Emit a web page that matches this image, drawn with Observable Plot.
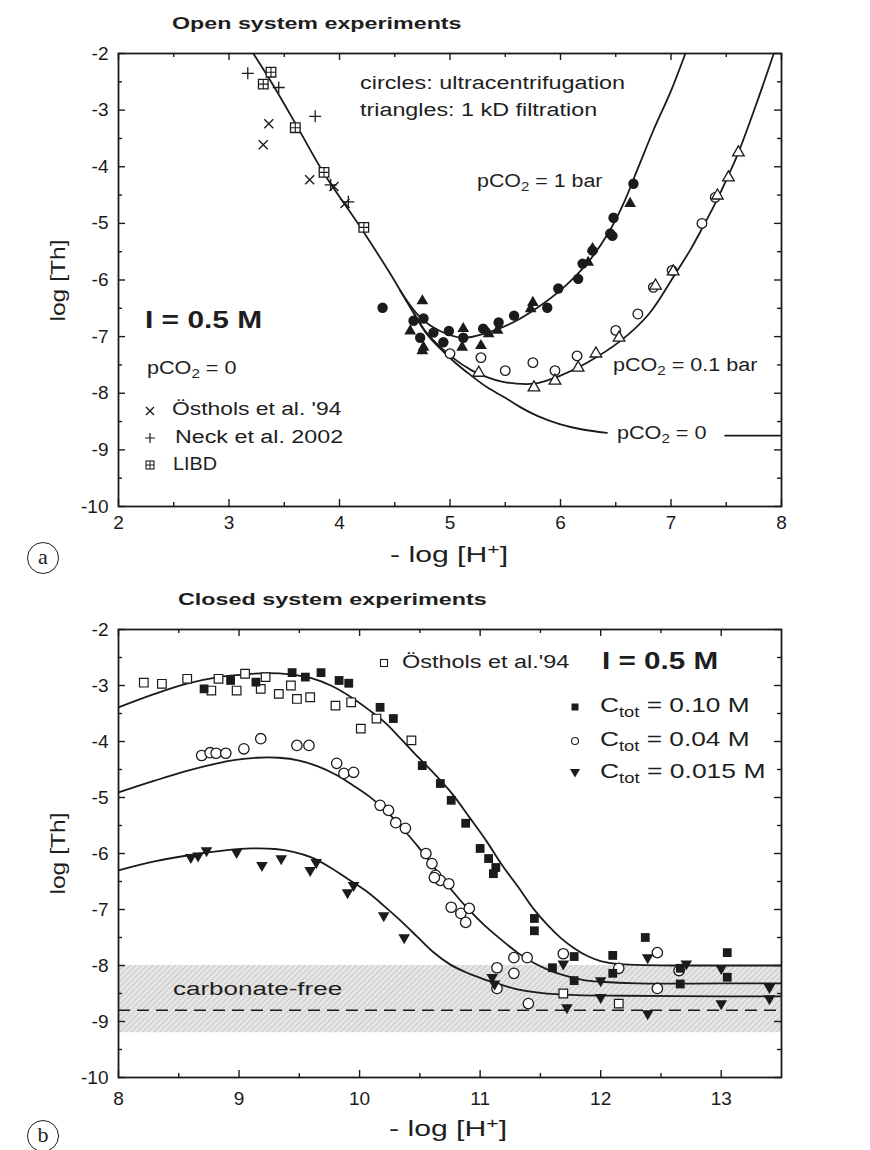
<!DOCTYPE html>
<html><head><meta charset="utf-8">
<script src="https://cdn.jsdelivr.net/npm/d3@7"></script>
<script src="https://cdn.jsdelivr.net/npm/@observablehq/plot@0.6"></script>
<style>
html,body{margin:0;padding:0;background:#fff;}
#wrap{position:relative;width:870px;height:1150px;overflow:hidden;font-family:"Liberation Sans",Arial,sans-serif;color:#1e1e1e;}
#wrap svg.plot{position:absolute;left:0;}
.t{position:absolute;white-space:nowrap;}
.t sub{font-size:0.7em;position:relative;top:0.32em;vertical-align:baseline;line-height:0;}
.t sup{font-size:0.7em;position:relative;top:-0.5em;vertical-align:baseline;line-height:0;}
.sym{position:absolute;width:24px;height:24px;}
.lab{position:absolute;width:30px;height:30px;border:1.5px solid #1e1e1e;border-radius:50%;font-family:"Liberation Serif","Times New Roman",serif;font-size:22px;line-height:28px;text-align:center;}
</style></head>
<body><div id="wrap"></div>
<script>
// ---------------- Panel (a): open system ----------------
const aTicksX = [2, 3, 4, 5, 6, 7, 8];
const aTicksY = [-2, -3, -4, -5, -6, -7, -8, -9, -10];
// model curves
const aC0X = [3.22, 3.40, 3.62, 3.86, 4.19, 4.45, 4.67, 4.80, 5.03, 5.20, 5.34, 5.50, 5.64, 5.79, 6.00, 6.20, 6.42];
const aC0Y = [-2.0, -2.56, -3.30, -4.12, -5.07, -5.86, -6.58, -6.98, -7.43, -7.70, -7.90, -8.08, -8.25, -8.40, -8.55, -8.64, -8.70];
const aC0TailX = [7.49, 8.0];
const aC0TailY = [-8.75, -8.75];
const aC01X = [4.67, 4.80, 5.03, 5.20, 5.34, 5.46, 5.60, 5.76, 5.90, 6.00, 6.24, 6.54, 6.80, 7.02, 7.18, 7.30, 7.42, 7.52, 7.61, 7.78, 7.93];
const aC01Y = [-6.58, -6.96, -7.38, -7.60, -7.72, -7.79, -7.83, -7.83, -7.76, -7.69, -7.46, -7.08, -6.60, -5.95, -5.45, -5.02, -4.57, -4.15, -3.75, -2.85, -2.0];
const aC1X = [4.55, 4.73, 4.91, 5.12, 5.34, 5.57, 5.79, 6.03, 6.24, 6.43, 6.57, 6.70, 6.84, 7.00, 7.13];
const aC1Y = [-6.19, -6.66, -6.90, -7.02, -6.93, -6.75, -6.49, -6.13, -5.71, -5.18, -4.65, -4.03, -3.36, -2.66, -2.0];
// pCO2 = 0 data
const aOsthX = [3.36, 3.31, 3.73, 3.95, 4.05];
const aOsthY = [-3.24, -3.61, -4.23, -4.35, -4.65];
const aNeckX = [3.17, 3.45, 3.78, 3.92, 4.08];
const aNeckY = [-2.35, -2.60, -3.11, -4.32, -4.62];
const aLibdX = [3.38, 3.31, 3.60, 3.86, 4.22];
const aLibdY = [-2.33, -2.54, -3.31, -4.10, -5.07];
// pCO2 = 1 bar: ultracentrifugation (filled circles), filtration (filled triangles)
const aUc1X = [4.39, 4.67, 4.73, 4.76, 4.85, 4.94, 4.99, 5.12, 5.30, 5.44, 5.58, 5.88, 5.98, 6.16, 6.20, 6.29, 6.45, 6.47, 6.48, 6.66];
const aUc1Y = [-6.49, -6.72, -7.02, -6.68, -6.93, -7.10, -6.90, -7.02, -6.86, -6.75, -6.63, -6.49, -6.15, -5.98, -5.71, -5.48, -5.18, -5.22, -4.90, -4.30];
const aFi1X = [4.64, 4.75, 4.75, 4.76, 5.11, 5.12, 5.28, 5.35, 5.43, 5.73, 5.75, 6.25, 6.29, 6.63];
const aFi1Y = [-6.90, -6.37, -7.25, -7.19, -7.19, -6.86, -7.16, -6.95, -6.89, -6.51, -6.40, -5.69, -5.45, -4.65];
// pCO2 = 0.1 bar: ultracentrifugation (open circles), filtration (open triangles)
const aUc01X = [5.00, 5.28, 5.50, 5.75, 5.95, 6.15, 6.50, 6.70, 6.84, 7.01, 7.28, 7.40];
const aUc01Y = [-7.30, -7.37, -7.60, -7.46, -7.60, -7.34, -6.89, -6.60, -6.13, -5.83, -5.00, -4.54];
const aFi01X = [5.26, 5.76, 5.95, 6.16, 6.32, 6.53, 6.86, 7.02, 7.42, 7.52, 7.61];
const aFi01Y = [-7.64, -7.90, -7.78, -7.55, -7.30, -7.02, -6.10, -5.85, -4.51, -4.19, -3.75];

// ---------------- Panel (b): closed system ----------------
const bTicksX = [8, 9, 10, 11, 12, 13];
const bTicksY = [-2, -3, -4, -5, -6, -7, -8, -9, -10];
const bC10X = [8, 8.3, 8.56, 8.83, 9.05, 9.24, 9.42, 9.6, 9.77, 9.93, 10.08, 10.22, 10.35, 10.49, 10.63, 10.77, 10.91, 11.05, 11.18, 11.32, 11.44, 11.56, 11.67, 11.78, 11.89, 12.0, 12.14, 12.3, 12.6, 13.0, 13.5];
const bC10Y = [-3.39, -3.15, -2.97, -2.85, -2.80, -2.78, -2.80, -2.87, -3.01, -3.21, -3.44, -3.68, -3.97, -4.29, -4.6, -4.94, -5.35, -5.77, -6.2, -6.61, -6.98, -7.28, -7.51, -7.69, -7.83, -7.92, -7.97, -7.99, -8.0, -8.0, -8.0];
const bC04X = [8, 8.3, 8.56, 8.8, 8.97, 9.15, 9.33, 9.5, 9.66, 9.8, 9.93, 10.08, 10.22, 10.35, 10.49, 10.63, 10.77, 10.9, 11.03, 11.17, 11.31, 11.45, 11.58, 11.72, 11.86, 12.0, 12.3, 13.0, 13.5];
const bC04Y = [-4.91, -4.7, -4.53, -4.40, -4.33, -4.29, -4.29, -4.34, -4.45, -4.59, -4.76, -4.98, -5.24, -5.54, -5.89, -6.28, -6.67, -6.99, -7.27, -7.53, -7.77, -7.96, -8.09, -8.19, -8.26, -8.29, -8.32, -8.32, -8.32];
const bC015X = [8, 8.3, 8.68, 8.9, 9.1, 9.3, 9.45, 9.6, 9.75, 9.9, 10.06, 10.2, 10.34, 10.48, 10.61, 10.75, 10.89, 11.0, 11.15, 11.3, 11.5, 11.8, 12.2, 13.0, 13.5];
const bC015Y = [-6.3, -6.14, -6.0, -5.94, -5.91, -5.92, -5.97, -6.07, -6.24, -6.45, -6.68, -6.93, -7.2, -7.49, -7.76, -7.98, -8.13, -8.22, -8.33, -8.42, -8.49, -8.53, -8.54, -8.55, -8.55];
const bBandY = [-9.2, -8.0];          // carbonate-free range
const bFreeY = [-8.8];                // carbonate-free level (dashed)
const bOsX = [8.21, 8.36, 8.57, 8.77, 8.83, 8.98, 9.05, 9.18, 9.22, 9.33, 9.43, 9.48, 9.59, 9.80, 9.93, 10.01, 10.14, 10.43, 11.69, 12.15];
const bOsY = [-2.95, -2.97, -2.88, -3.09, -2.88, -3.09, -2.79, -3.06, -2.85, -3.15, -3.00, -3.24, -3.21, -3.36, -3.30, -3.77, -3.59, -3.98, -8.50, -8.68];
const bSqX = [8.71, 8.93, 9.14, 9.44, 9.55, 9.68, 9.83, 9.91, 10.17, 10.28, 10.52, 10.67, 10.76, 10.88, 11.0, 11.07, 11.13, 11.11, 11.45, 11.45, 11.6, 11.78, 11.78, 12.1, 12.1, 12.37, 12.66, 12.66, 13.05, 13.05];
const bSqY = [-3.06, -2.91, -2.94, -2.77, -2.85, -2.77, -2.91, -2.96, -3.39, -3.59, -4.43, -4.75, -5.05, -5.46, -5.91, -6.09, -6.25, -6.36, -7.16, -7.38, -8.04, -8.27, -7.84, -7.82, -8.14, -7.5, -8.05, -8.33, -7.77, -8.21];
const bCiX = [8.69, 8.76, 8.81, 8.89, 9.04, 9.18, 9.48, 9.58, 9.81, 9.87, 9.95, 10.17, 10.24, 10.30, 10.38, 10.55, 10.60, 10.63, 10.67, 10.74, 10.62, 10.76, 10.84, 10.88, 10.91, 11.14, 11.28, 11.39, 11.28, 11.14, 11.40, 11.69, 12.15, 12.47, 12.47, 12.65];
const bCiY = [-4.25, -4.20, -4.21, -4.21, -4.13, -3.95, -4.07, -4.07, -4.39, -4.57, -4.55, -5.14, -5.23, -5.45, -5.55, -6.00, -6.18, -6.39, -6.48, -6.54, -6.43, -6.96, -7.07, -7.23, -6.98, -8.04, -7.86, -7.86, -8.14, -8.41, -8.68, -7.79, -8.05, -7.77, -8.41, -8.09];
const bTrX = [8.6, 8.66, 8.73, 8.98, 9.19, 9.35, 9.59, 9.64, 9.90, 9.95, 10.20, 10.37, 11.10, 11.12, 11.69, 11.72, 12.0, 12.0, 12.39, 12.39, 12.71, 13.0, 13.0, 13.40, 13.40];
const bTrY = [-6.07, -6.04, -5.95, -5.98, -6.21, -6.09, -6.30, -6.16, -6.70, -6.57, -7.11, -7.50, -8.21, -8.33, -7.97, -8.75, -8.27, -8.57, -7.86, -8.86, -7.97, -8.05, -8.68, -8.39, -8.59];

// ---------------- drawing ----------------
const INK = "#1b1b1b";
const W = 870;
const wrap = document.getElementById("wrap");
const pts = (xs, ys) => xs.map((x, i) => ({x, y: ys[i]}));
const sym = f => ({draw(ctx, size) { f(ctx, Math.sqrt(size / Math.PI)); }});
const triUp = sym((c, r) => { c.moveTo(0, -1.15 * r); c.lineTo(r, 0.58 * r); c.lineTo(-r, 0.58 * r); c.closePath(); });
const triDown = sym((c, r) => { c.moveTo(0, 1.15 * r); c.lineTo(r, -0.58 * r); c.lineTo(-r, -0.58 * r); c.closePath(); });
const square = sym((c, r) => { c.moveTo(-r, -r); c.lineTo(r, -r); c.lineTo(r, r); c.lineTo(-r, r); c.closePath(); });
const plus = sym((c, r) => { c.moveTo(-r, 0); c.lineTo(r, 0); c.moveTo(0, -r); c.lineTo(0, r); });
const times = sym((c, r) => { c.moveTo(-r, -r); c.lineTo(r, r); c.moveTo(-r, r); c.lineTo(r, -r); });

function frameTicks(xT, yT, xd, yd, pxX, pxY) {
  const xm = d3.pairs(xT).map(([a, b]) => (a + b) / 2);
  const ym = d3.pairs(yT).map(([a, b]) => (a + b) / 2);
  const opt = {stroke: INK, strokeWidth: 1.4};
  const out = [];
  for (const [vals, L] of [[xT, 7], [xm, 4]]) {
    out.push(Plot.ruleX(vals, {x: d => d, y1: yd[0], y2: yd[0] + L / pxY, ...opt}));
    out.push(Plot.ruleX(vals, {x: d => d, y1: yd[1], y2: yd[1] - L / pxY, ...opt}));
  }
  for (const [vals, L] of [[yT, 7], [ym, 4]]) {
    out.push(Plot.ruleY(vals, {y: d => d, x1: xd[0], x2: xd[0] + L / pxX, ...opt}));
    out.push(Plot.ruleY(vals, {y: d => d, x1: xd[1], x2: xd[1] - L / pxX, ...opt}));
  }
  return out;
}
const curve = (xs, ys) => Plot.line(pts(xs, ys), {x: "x", y: "y", curve: "catmull-rom", stroke: INK, strokeWidth: 1.8, clip: true});
const style = {fontFamily: "Liberation Sans, Arial, sans-serif", fontSize: "19px", color: INK, background: "transparent"};

// Panel a
{
  const m = {l: 118, r: 89, t: 53, b: 74}, h = 580;
  const xd = [2, 8], yd = [-10, -2];
  const pxX = (W - m.l - m.r) / (xd[1] - xd[0]), pxY = (h - m.t - m.b) / (yd[1] - yd[0]);
  const svg = Plot.plot({
    width: W, height: h, marginLeft: m.l, marginRight: m.r, marginTop: m.t, marginBottom: m.b, style,
    x: {domain: xd, ticks: aTicksX, tickSize: 0, tickPadding: 9, tickFormat: d => String(d), label: null},
    y: {domain: yd, ticks: aTicksY, tickSize: 0, tickPadding: 10, tickFormat: d => String(d), label: null},
    marks: [
      ...frameTicks(aTicksX, aTicksY, xd, yd, pxX, pxY),
      curve(aC0X, aC0Y), curve(aC0TailX, aC0TailY), curve(aC01X, aC01Y), curve(aC1X, aC1Y),
      Plot.dot(pts(aOsthX, aOsthY), {x: "x", y: "y", symbol: times, r: 4.5, fill: "none", stroke: INK, strokeWidth: 1.4}),
      Plot.dot(pts(aNeckX, aNeckY), {x: "x", y: "y", symbol: plus, r: 6, fill: "none", stroke: INK, strokeWidth: 1.3}),
      Plot.dot(pts(aLibdX, aLibdY), {x: "x", y: "y", symbol: square, r: 4.8, fill: "white", stroke: INK, strokeWidth: 1.3}),
      Plot.dot(pts(aLibdX, aLibdY), {x: "x", y: "y", symbol: plus, r: 4.8, fill: "none", stroke: INK, strokeWidth: 1.1}),
      Plot.dot(pts(aUc01X, aUc01Y), {x: "x", y: "y", symbol: "circle", r: 4.8, fill: "white", stroke: INK, strokeWidth: 1.3}),
      Plot.dot(pts(aFi01X, aFi01Y), {x: "x", y: "y", symbol: triUp, r: 5.8, fill: "white", stroke: INK, strokeWidth: 1.3}),
      Plot.dot(pts(aUc1X, aUc1Y), {x: "x", y: "y", symbol: "circle", r: 5.2, fill: INK, stroke: "none"}),
      Plot.dot(pts(aFi1X, aFi1Y), {x: "x", y: "y", symbol: triUp, r: 5.9, fill: INK, stroke: "none"}),
      Plot.frame({stroke: INK, strokeWidth: 1.8})
    ]
  });
  svg.classList.add("plot");
  svg.style.top = "0px";
  wrap.appendChild(svg);
}

// Panel b
{
  const top = 580;
  const m = {l: 118, r: 89, t: 49, b: 73}, h = 570;
  const xd = [8, 13.5], yd = [-10, -2];
  const pxX = (W - m.l - m.r) / (xd[1] - xd[0]), pxY = (h - m.t - m.b) / (yd[1] - yd[0]);
  const svg = Plot.plot({
    width: W, height: h, marginLeft: m.l, marginRight: m.r, marginTop: m.t, marginBottom: m.b, style,
    x: {domain: xd, ticks: bTicksX, tickSize: 0, tickPadding: 14, tickFormat: d => String(d), label: null},
    y: {domain: yd, ticks: bTicksY, tickSize: 0, tickPadding: 10, tickFormat: d => String(d), label: null},
    marks: [
      Plot.rect([bBandY], {x1: () => xd[0], x2: () => xd[1], y1: d => d[0], y2: d => d[1], fill: "url(#hatch)"}),
      Plot.ruleY(bFreeY, {y: d => d, stroke: INK, strokeWidth: 1.6, strokeDasharray: "12,7"}),
      ...frameTicks(bTicksX, bTicksY, xd, yd, pxX, pxY),
      curve(bC10X, bC10Y), curve(bC04X, bC04Y), curve(bC015X, bC015Y),
      Plot.dot(pts(bOsX, bOsY), {x: "x", y: "y", symbol: square, r: 4.3, fill: "white", stroke: INK, strokeWidth: 1.2}),
      Plot.dot(pts(bCiX, bCiY), {x: "x", y: "y", symbol: "circle", r: 5.2, fill: "white", stroke: INK, strokeWidth: 1.3}),
      Plot.dot(pts(bSqX, bSqY), {x: "x", y: "y", symbol: square, r: 4.4, fill: INK, stroke: "none"}),
      Plot.dot(pts(bTrX, bTrY), {x: "x", y: "y", symbol: triDown, r: 5.8, fill: INK, stroke: "none"}),
      Plot.frame({stroke: INK, strokeWidth: 1.8})
    ]
  });
  const defs = d3.select(svg).insert("defs", ":first-child");
  const p = defs.append("pattern").attr("id", "hatch").attr("patternUnits", "userSpaceOnUse")
    .attr("width", 4).attr("height", 4).attr("patternTransform", "rotate(45)");
  p.append("rect").attr("width", 4).attr("height", 4).attr("fill", "#e6e6e6");
  p.append("line").attr("x1", 0).attr("y1", 0).attr("x2", 0).attr("y2", 4).attr("stroke", "#b8b8b8").attr("stroke-width", 1.3);
  svg.classList.add("plot");
  svg.style.top = top + "px";
  wrap.appendChild(svg);
}

// ---------------- text ----------------
function txt(html, o) {
  const d = document.createElement("div");
  d.className = "t";
  d.innerHTML = html;
  d.style.fontSize = o.size + "px";
  d.style.lineHeight = o.size + "px";
  if (o.bold) d.style.fontWeight = "bold";
  wrap.appendChild(d);
  const w = d.offsetWidth, hh = d.offsetHeight;
  const s = o.width ? o.width / w : 1;
  if (o.rotate) {
    d.style.left = (o.cx - w / 2) + "px";
    d.style.top = (o.cy - hh / 2) + "px";
    d.style.transformOrigin = "50% 50%";
    d.style.transform = `rotate(-90deg) scaleX(${s})`;
  } else {
    const left = o.left != null ? o.left : o.cx - (w * s) / 2;
    d.style.left = left + "px";
    d.style.top = (o.cy - 0.55 * o.size) + "px";
    d.style.transformOrigin = "0 50%";
    d.style.transform = `scaleX(${s})`;
  }
}
function symbolAt(cx, cy, inner) {
  const d = document.createElement("div");
  d.className = "sym";
  d.style.left = (cx - 12) + "px";
  d.style.top = (cy - 12) + "px";
  d.innerHTML = `<svg width="24" height="24" viewBox="-12 -12 24 24">${inner}</svg>`;
  wrap.appendChild(d);
}
function circled(ch, cx, cy) {
  const d = document.createElement("div");
  d.className = "lab";
  d.textContent = ch;
  d.style.left = (cx - 16) + "px";
  d.style.top = (cy - 16) + "px";
  wrap.appendChild(d);
}

// panel a texts
txt("Open system experiments", {left: 172, cy: 24, size: 17, bold: true, width: 290});
txt("circles: ultracentrifugation", {left: 360, cy: 84, size: 18, width: 265});
txt("triangles: 1 kD filtration", {left: 360, cy: 111, size: 18, width: 237});
txt("pCO<sub>2</sub> = 1 bar", {left: 477, cy: 182, size: 18, width: 126});
txt("pCO<sub>2</sub> = 0.1 bar", {left: 613, cy: 366, size: 18, width: 145});
txt("pCO<sub>2</sub> = 0", {left: 617, cy: 434, size: 18, width: 90});
txt("I = 0.5 M", {left: 145, cy: 322, size: 23, bold: true, width: 117});
txt("pCO<sub>2</sub> = 0", {left: 147, cy: 369, size: 18, width: 90});
txt("Östhols et al. '94", {left: 172, cy: 410, size: 18, width: 170});
txt("Neck et al. 2002", {left: 175, cy: 438, size: 18, width: 168});
txt("LIBD", {left: 173, cy: 465, size: 18, width: 44});
symbolAt(150, 411, `<path d="M-4,-4L4,4M-4,4L4,-4" stroke="${INK}" stroke-width="1.4"/>`);
symbolAt(150, 438, `<path d="M-5,0L5,0M0,-5L0,5" stroke="${INK}" stroke-width="1.2"/>`);
symbolAt(150, 465, `<rect x="-4" y="-4" width="8" height="8" fill="white" stroke="${INK}" stroke-width="1.1"/><path d="M-4,0L4,0M0,-4L0,4" stroke="${INK}" stroke-width="1"/>`);
txt("- log [H<sup>+</sup>]", {cx: 449, cy: 556, size: 22, width: 118});
txt("log [Th]", {cx: 57, cy: 280, size: 21, rotate: true, width: 82});
circled("a", 43, 558);

// panel b texts
txt("Closed system experiments", {left: 178, cy: 600, size: 17, bold: true, width: 309});
symbolAt(384, 663, `<rect x="-3.5" y="-3.5" width="7" height="7" fill="white" stroke="${INK}" stroke-width="1.1"/>`);
txt("Östhols et al.'94", {left: 402, cy: 663, size: 18, width: 168});
txt("I = 0.5 M", {left: 602, cy: 663, size: 23, bold: true, width: 116});
symbolAt(575, 707, `<rect x="-3.5" y="-3.5" width="7" height="7" fill="${INK}"/>`);
symbolAt(575, 741, `<circle r="3.5" fill="white" stroke="${INK}" stroke-width="1.1"/>`);
symbolAt(575, 772, `<path d="M0,5.5L5,-3L-5,-3Z" fill="${INK}"/>`);
txt("C<sub>tot</sub> = 0.10 M", {left: 600, cy: 706, size: 21, width: 150});
txt("C<sub>tot</sub> = 0.04 M", {left: 600, cy: 740, size: 21, width: 150});
txt("C<sub>tot</sub> = 0.015 M", {left: 600, cy: 772, size: 21, width: 165});
txt("carbonate-free", {left: 173, cy: 990, size: 18, width: 169});
txt("- log [H<sup>+</sup>]", {cx: 448, cy: 1130, size: 22, width: 118});
txt("log [Th]", {cx: 57, cy: 853, size: 21, rotate: true, width: 82});
circled("b", 43, 1136);
</script>
</body></html>
